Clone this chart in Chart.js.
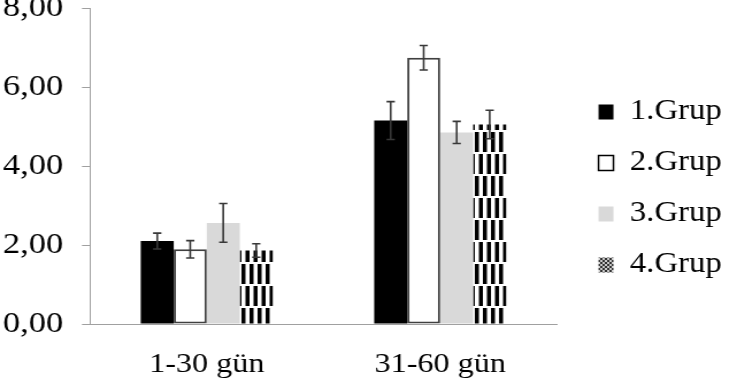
<!DOCTYPE html>
<html><head><meta charset="utf-8">
<script src="https://cdn.jsdelivr.net/npm/chart.js@4.4.1/dist/chart.umd.min.js"></script>
<style>
html,body{margin:0;padding:0;background:#fff;overflow:hidden;}
#wrap{position:absolute;left:0;top:0;width:641px;height:387px;transform:scaleX(1.14977);transform-origin:0 0;}
#c{display:block;width:641px;height:387px;}
</style></head><body>
<div id="wrap"><canvas id="c" width="641" height="387"></canvas></div>
<script>
const categories = ['1-30 gün', '31-60 gün'];
const seriesNames = ['1.Grup', '2.Grup', '3.Grup', '4.Grup'];
const grup1 = [2.10, 5.15];
const grup2 = [1.89, 6.74];
const grup3 = [2.56, 4.85];
const grup4 = [1.86, 5.05];
const err1 = [0.20, 0.48];
const err2 = [0.22, 0.31];
const err3 = [0.49, 0.28];
const err4 = [0.17, 0.36];
const yTicks = [0, 2, 4, 6, 8];

const canvas = document.getElementById('c');
const mctx = canvas.getContext('2d');

function makeBarPattern() {
  const c = document.createElement('canvas'); c.width = 7; c.height = 44;
  const x = c.getContext('2d');
  x.fillStyle = '#fff'; x.fillRect(0, 0, 7, 44);
  x.fillStyle = '#000';
  x.fillRect(0, 0, 3.5, 20);
  x.fillRect(3.5, 22, 3.5, 20);
  return mctx.createPattern(c, 'repeat');
}
function makeLegendPattern() {
  const c = document.createElement('canvas'); c.width = 4; c.height = 4;
  const x = c.getContext('2d');
  x.fillStyle = '#c8c8c8'; x.fillRect(0, 0, 4, 4);
  x.fillStyle = '#333';
  x.fillRect(0, 0, 2, 2); x.fillRect(2, 2, 2, 2);
  return mctx.createPattern(c, 'repeat');
}
const barPattern = makeBarPattern();
const legendPattern = makeLegendPattern();

const errorBars = {
  id: 'errorBars',
  afterDatasetsDraw(chart) {
    const ctx = chart.ctx, ys = chart.scales.y;
    ctx.save();
    ctx.strokeStyle = '#383838';
    ctx.lineWidth = 1.6;
    chart.data.datasets.forEach((ds, i) => {
      const meta = chart.getDatasetMeta(i);
      meta.data.forEach((bar, j) => {
        const v = ds.data[j], e = ds.errors[j];
        const yt = ys.getPixelForValue(v + e), yb = ys.getPixelForValue(v - e);
        const x = bar.x, hw = 3.6;
        ctx.beginPath();
        ctx.moveTo(x, yt); ctx.lineTo(x, yb);
        ctx.moveTo(x - hw, yt); ctx.lineTo(x + hw, yt);
        ctx.moveTo(x - hw, yb); ctx.lineTo(x + hw, yb);
        ctx.stroke();
      });
    });
    ctx.restore();
  }
};

const FONT = 'Liberation Serif';

new Chart(canvas, {
  type: 'bar',
  data: {
    labels: categories,
    datasets: [
      { label: seriesNames[0], data: grup1, errors: err1, backgroundColor: '#000', borderWidth: 0 },
      { label: seriesNames[1], data: grup2, errors: err2, backgroundColor: '#fff', borderColor: '#404040', borderWidth: 2, borderSkipped: false },
      { label: seriesNames[2], data: grup3, errors: err3, backgroundColor: '#d9d9d9', borderWidth: 0 },
      { label: seriesNames[3], data: grup4, errors: err4, backgroundColor: barPattern, borderWidth: 0 }
    ]
  },
  options: {
    responsive: false,
    animation: false,
    devicePixelRatio: 1,
    layout: { padding: { left: -13.8, right: 3.25, top: 8, bottom: -18.6 } },
    datasets: { bar: { categoryPercentage: 0.5655, barPercentage: 1 } },
    scales: {
      x: {
        offset: true,
        grid: { display: false, drawTicks: false },
        border: { display: true, color: '#a0a0a0', width: 1 },
        ticks: { color: '#000', font: { family: FONT, size: 28 }, padding: 24, maxRotation: 0, autoSkip: false }
      },
      y: {
        min: 0, max: 8,
        afterBuildTicks: s => { s.ticks = yTicks.map(v => ({ value: v })); },
        grid: { drawOnChartArea: false, drawTicks: true, tickLength: 7, color: '#a0a0a0' },
        border: { display: true, color: '#a0a0a0', width: 1 },
        ticks: {
          color: '#000', padding: 16.3,
          font: { family: FONT, size: 30, lineHeight: 1 },
          callback: v => Number(v).toFixed(2).replace('.', ',')
        },
        afterFit: s => { s.paddingTop = 0; s.paddingBottom = 0; }
      },
      y2: {
        position: 'right', display: true, min: 0, max: 1,
        grid: { display: false, drawTicks: false },
        border: { display: false },
        ticks: { display: false },
        afterFit: s => { s.width = 13.7; s.paddingTop = 0; s.paddingBottom = 0; }
      }
    },
    plugins: {
      tooltip: { enabled: false },
      legend: {
        position: 'right',
        align: 'start',
        maxWidth: 200,
        title: { display: true, text: ' ', font: { size: 10 }, padding: { top: 55.25, bottom: 0 } },
        labels: {
          color: '#000',
          font: { family: FONT, size: 28.5 },
          boxWidth: 13, boxHeight: 15, padding: 22.5,
          generateLabels: chart => {
            const items = Chart.defaults.plugins.legend.labels.generateLabels(chart);
            items[0].lineWidth = 0;
            items[1].strokeStyle = '#000'; items[1].lineWidth = 1.5;
            items[2].lineWidth = 0;
            items[3].fillStyle = legendPattern; items[3].lineWidth = 0;
            return items;
          }
        }
      }
    }
  },
  plugins: [errorBars]
});
</script>
</body></html>
